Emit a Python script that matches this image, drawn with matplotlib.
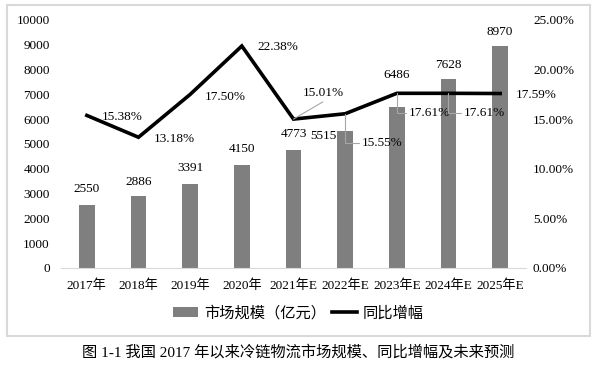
"""Cold-chain logistics market size and YoY growth, 2017-2025E."""

import matplotlib
matplotlib.use("Agg")
import matplotlib.pyplot as plt
from matplotlib.patches import Rectangle

SERIF = ["Liberation Serif", "Noto Sans CJK SC"]
SANS = ["Noto Sans CJK SC", "DejaVu Sans"]

# values
years = ["2017年", "2018年", "2019年", "2020年", "2021年E",
         "2022年E", "2023年E", "2024年E", "2025年E"]
market = [2550, 2886, 3391, 4150, 4773, 5515, 6486, 7628, 8970]
growth = [15.38, 13.18, 17.50, 22.38, 15.01, 15.55, 17.61, 17.61, 17.59]

# label offsets in pixels (dx, dy) - tuned by eye
bar_off = [(0, 16), (0, 14), (0, 16), (0, 16), (0, 16),
           (-22, -5), (0, 32), (0, 14), (0, 14)]
pct_off = [(35, -2), (36, -2), (35, -3), (36, -1), (30, 26),
           (37, -29), (33, -20), (36, -20), (36, -1)]

fig = plt.figure(figsize=(5.97, 3.74), dpi=100)
ax = fig.add_axes([61 / 597, 1 - 268 / 374, 465 / 597, 248 / 374])
ax2 = ax.twinx()

x = list(range(len(years)))
bars = ax.bar(x, market, width=0.3, color="#7f7f7f", label="市场规模（亿元）")
line, = ax2.plot(x, growth, color="black", lw=2.6, label="同比增幅",
                 solid_joinstyle="miter")

ax.set_xlim(-0.5, len(years) - 0.5)
ax.set_ylim(0, 10000)
ax.set_yticks(range(0, 10001, 1000))
ax2.set_ylim(0, 25)
ax2.set_yticks(range(0, 26, 5))
ax2.set_yticklabels([f"{v:.2f}%" for v in range(0, 26, 5)])

ax.set_xticks(x)
ax.set_xticklabels(years, family=SERIF, fontsize=9.5)
for lab in ax.get_yticklabels():
    lab.set_family(SERIF)
    lab.set_fontsize(9.5)
for lab in ax2.get_yticklabels():
    lab.set_family(SERIF)
    lab.set_fontsize(9.5)

ax.tick_params(axis="both", length=0)
ax.tick_params(axis="y", pad=8)
ax.tick_params(axis="x", pad=8)
ax2.tick_params(axis="y", length=0, pad=5)
for a in (ax, ax2):
    for s in ("top", "left", "right"):
        a.spines[s].set_visible(False)
    a.spines["bottom"].set_color("#d9d9d9")
ax2.spines["bottom"].set_visible(False)
ax2.set_zorder(ax.get_zorder() + 1)
ax2.patch.set_visible(False)

# bar value labels
for i, v in enumerate(market):
    ax.annotate(str(v), xy=(i, v), xytext=bar_off[i], textcoords="offset pixels",
                ha="center", va="center", family=SERIF, fontsize=9.5)

# growth labels, some with grey leader lines
for i, g in enumerate(growth):
    kw = {}
    if i == 4:
        kw["arrowprops"] = dict(arrowstyle="-", color="#a6a6a6", lw=0.8,
                                shrinkA=0, shrinkB=0, relpos=(0.6, 0))
    elif i in (5, 6, 7):
        kw["arrowprops"] = dict(arrowstyle="-", color="#a6a6a6", lw=0.8,
                                shrinkA=0, shrinkB=0, relpos=(0, 0.5),
                                connectionstyle="angle,angleA=0,angleB=90,rad=0")
    ax2.annotate(f"{g:.2f}%", xy=(i, g), xytext=pct_off[i], textcoords="offset pixels",
                 ha="center", va="center", family=SERIF, fontsize=9.5, **kw)

fig.legend(handles=[bars, line], loc="center", bbox_to_anchor=(0.5, 1 - 313 / 374),
           ncol=2, frameon=False, prop={"family": SANS, "size": 11},
           handlelength=1.6, handleheight=0.55, handletextpad=0.4, columnspacing=0.4)

# light grey chart border
fig.patches.append(Rectangle((7 / 597, 1 - 336 / 374), 583 / 597, 331 / 374,
                             transform=fig.transFigure, fill=False,
                             edgecolor="#d9d9d9", lw=1.5))

fig.text(0.5, 1 - 352 / 374, "图 1-1 我国 2017 年以来冷链物流市场规模、同比增幅及未来预测",
         ha="center", va="center", family=SERIF, fontsize=11)

fig.savefig("out.png", dpi=100)
